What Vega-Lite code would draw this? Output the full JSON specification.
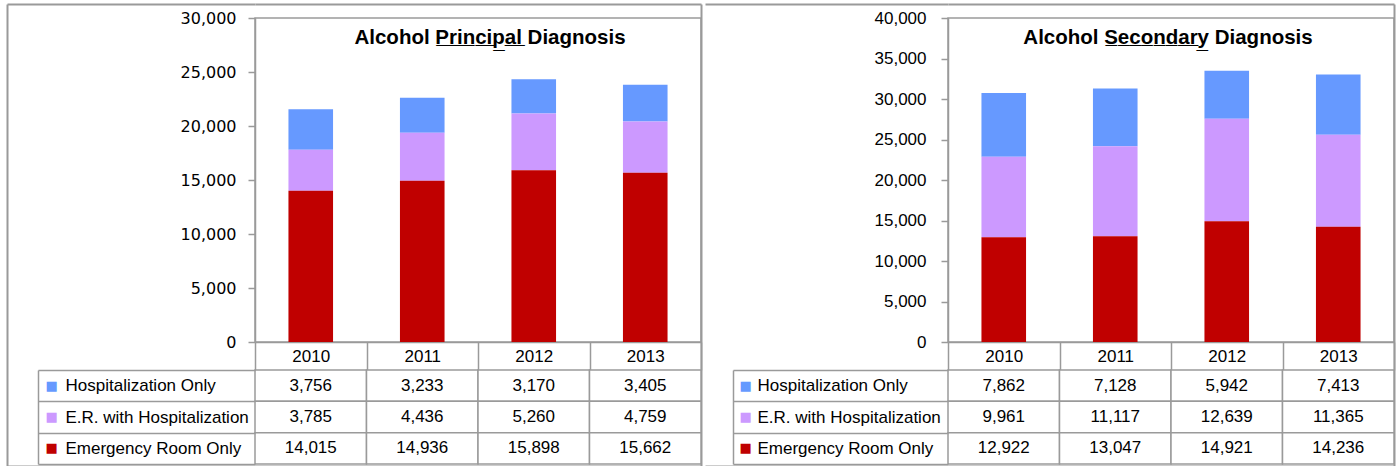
{
  "$schema": "https://vega.github.io/schema/vega-lite/v6.json",
  "background": "white",
  "autosize": {"type": "pad"},
  "padding": {"left": 5, "top": 2, "right": 0, "bottom": 0},
  "datasets": {
    "principal": [
      {"year": "2010", "series": "Hospitalization Only", "value": 3756},
      {"year": "2010", "series": "E.R. with Hospitalization", "value": 3785},
      {"year": "2010", "series": "Emergency Room Only", "value": 14015},
      {"year": "2011", "series": "Hospitalization Only", "value": 3233},
      {"year": "2011", "series": "E.R. with Hospitalization", "value": 4436},
      {"year": "2011", "series": "Emergency Room Only", "value": 14936},
      {"year": "2012", "series": "Hospitalization Only", "value": 3170},
      {"year": "2012", "series": "E.R. with Hospitalization", "value": 5260},
      {"year": "2012", "series": "Emergency Room Only", "value": 15898},
      {"year": "2013", "series": "Hospitalization Only", "value": 3405},
      {"year": "2013", "series": "E.R. with Hospitalization", "value": 4759},
      {"year": "2013", "series": "Emergency Room Only", "value": 15662}
    ],
    "secondary": [
      {"year": "2010", "series": "Hospitalization Only", "value": 7862},
      {"year": "2010", "series": "E.R. with Hospitalization", "value": 9961},
      {"year": "2010", "series": "Emergency Room Only", "value": 12922},
      {"year": "2011", "series": "Hospitalization Only", "value": 7128},
      {"year": "2011", "series": "E.R. with Hospitalization", "value": 11117},
      {"year": "2011", "series": "Emergency Room Only", "value": 13047},
      {"year": "2012", "series": "Hospitalization Only", "value": 5942},
      {"year": "2012", "series": "E.R. with Hospitalization", "value": 12639},
      {"year": "2012", "series": "Emergency Room Only", "value": 14921},
      {"year": "2013", "series": "Hospitalization Only", "value": 7413},
      {"year": "2013", "series": "E.R. with Hospitalization", "value": 11365},
      {"year": "2013", "series": "Emergency Room Only", "value": 14236}
    ]
  },
  "spacing": 0,
  "hconcat": [
    {
      "bounds": "flush",
      "spacing": 28,
      "vconcat": [
        {
          "width": 446,
          "height": 324,
          "data": {"name": "principal"},
          "title": {"text": "Alcohol P̲r̲i̲n̲c̲i̲p̲a̲l̲ Diagnosis", "font": "Liberation Sans", "fontSize": 20.5, "fontWeight": "bold", "color": "black", "anchor": "middle", "frame": "group", "offset": -45, "dx": 12},
          "view": {"stroke": "#9a9a9a", "strokeWidth": 1.5},
          "encoding": {
            "x": {"field": "year", "type": "nominal", "scale": {"paddingInner": 0, "paddingOuter": 0},
              "axis": {"title": null, "domain": true, "domainColor": "#9a9a9a", "domainWidth": 1.5, "ticks": true, "tickBand": "extent", "tickSize": 28, "tickColor": "#9a9a9a", "tickWidth": 1.5, "labelAngle": 0, "labelPadding": -14, "labelBaseline": "middle", "labelFont": "Liberation Sans", "labelFontSize": 17, "labelColor": "black"}}
          },
          "layer": [
            {
              "mark": {"type": "bar", "width": {"band": 0.4}},
              "encoding": {
                "y": {"field": "value", "type": "quantitative", "stack": "zero", "scale": {"domain": [0, 30000], "nice": false},
                  "axis": {"title": null, "values": [0, 5000, 10000, 15000, 20000, 25000, 30000], "format": ",d", "domain": true, "domainColor": "#9a9a9a", "domainWidth": 1.5, "ticks": true, "tickSize": 7, "tickColor": "#9a9a9a", "tickWidth": 1.5, "labelPadding": 12, "labelFont": "DejaVu Sans", "labelFontSize": 16, "labelColor": "black"}},
                "color": {"field": "series", "type": "nominal", "scale": {"domain": ["Hospitalization Only", "E.R. with Hospitalization", "Emergency Room Only"], "range": ["#6699FF", "#CC99FF", "#C00000"]}, "legend": null},
                "order": {"field": "value", "type": "quantitative", "sort": "descending"}
              }
            },
            {
              "mark": {"type": "point", "opacity": 0},
              "encoding": {
                "y": {"datum": 0, "type": "quantitative", "scale": {"domain": [0, 1], "nice": false, "range": [448, -14]},
                  "axis": {"orient": "left", "offset": 248, "title": null, "labels": false, "values": [0, 1], "domain": true, "domainColor": "#9a9a9a", "domainWidth": 2, "ticks": true, "tickSize": -248, "tickColor": "#9a9a9a", "tickWidth": 2}}
              }
            },
            {
              "mark": {"type": "point", "opacity": 0},
              "encoding": {
                "y": {"datum": 0, "type": "quantitative", "scale": {"domain": [0, 1], "nice": false, "range": [448, -14]},
                  "axis": {"orient": "right", "title": null, "labels": false, "values": [0, 1], "domain": true, "domainColor": "#9a9a9a", "domainWidth": 2, "ticks": true, "tickSize": -446, "tickColor": "#9a9a9a", "tickWidth": 2}}
              }
            }
          ],
          "resolve": {"scale": {"y": "independent"}, "axis": {"y": "independent"}}
        },
        {
          "width": 446,
          "height": 94,
          "data": {"name": "principal"},
          "view": {"stroke": null},
          "encoding": {
            "x": {"field": "year", "type": "nominal", "scale": {"paddingInner": 0, "paddingOuter": 0}, "axis": null}
          },
          "layer": [
            {
              "mark": {"type": "rect", "fill": "white", "stroke": "#9a9a9a", "strokeWidth": 1.5},
              "encoding": {
                "y": {"field": "series", "type": "nominal", "scale": {"domain": ["Hospitalization Only", "E.R. with Hospitalization", "Emergency Room Only"], "paddingInner": 0, "paddingOuter": 0},
                  "axis": {"title": null, "orient": "left", "domain": false, "ticks": true, "tickBand": "extent", "tickSize": 217, "tickColor": "#9a9a9a", "tickWidth": 1.5, "labelAlign": "left", "labelPadding": -27, "labelBaseline": "middle", "labelFont": "Liberation Sans", "labelFontSize": 17, "labelColor": "black", "labelLimit": 300}}
              }
            },
            {
              "mark": {"type": "text", "font": "Liberation Sans", "fontSize": 17, "color": "black"},
              "encoding": {
                "y": {"field": "series", "type": "nominal",
                  "axis": {"title": null, "orient": "left", "offset": 217, "domain": true, "domainColor": "#9a9a9a", "domainWidth": 1.5, "ticks": false, "tickSize": 0, "labelExpr": "'■'", "labelAlign": "left", "labelPadding": -7, "labelBaseline": "middle", "labelFont": "DejaVu Sans", "labelFontSize": 13,
                    "labelColor": {"condition": [{"test": "datum.value === 'Hospitalization Only'", "value": "#6699FF"}, {"test": "datum.value === 'E.R. with Hospitalization'", "value": "#CC99FF"}], "value": "#C00000"}}},
                "text": {"field": "value", "type": "quantitative", "format": ","}
              }
            }
          ],
          "resolve": {"axis": {"y": "independent"}}
        }
      ]
    },
    {
      "bounds": "flush",
      "spacing": 28,
      "vconcat": [
        {
          "width": 446,
          "height": 324,
          "data": {"name": "secondary"},
          "title": {"text": "Alcohol S̲e̲c̲o̲n̲d̲a̲r̲y̲ Diagnosis", "font": "Liberation Sans", "fontSize": 20.5, "fontWeight": "bold", "color": "black", "anchor": "middle", "frame": "group", "offset": -45, "dx": -3},
          "view": {"stroke": "#9a9a9a", "strokeWidth": 1.5},
          "encoding": {
            "x": {"field": "year", "type": "nominal", "scale": {"paddingInner": 0, "paddingOuter": 0},
              "axis": {"title": null, "domain": true, "domainColor": "#9a9a9a", "domainWidth": 1.5, "ticks": true, "tickBand": "extent", "tickSize": 28, "tickColor": "#9a9a9a", "tickWidth": 1.5, "labelAngle": 0, "labelPadding": -14, "labelBaseline": "middle", "labelFont": "Liberation Sans", "labelFontSize": 17, "labelColor": "black"}}
          },
          "layer": [
            {
              "mark": {"type": "bar", "width": {"band": 0.4}},
              "encoding": {
                "y": {"field": "value", "type": "quantitative", "stack": "zero", "scale": {"domain": [0, 40000], "nice": false},
                  "axis": {"title": null, "values": [0, 5000, 10000, 15000, 20000, 25000, 30000, 35000, 40000], "format": ",d", "domain": true, "domainColor": "#9a9a9a", "domainWidth": 1.5, "ticks": true, "tickSize": 7, "tickColor": "#9a9a9a", "tickWidth": 1.5, "labelPadding": 15, "labelFont": "Liberation Sans", "labelFontSize": 17, "labelColor": "black"}},
                "color": {"field": "series", "type": "nominal", "scale": {"domain": ["Hospitalization Only", "E.R. with Hospitalization", "Emergency Room Only"], "range": ["#6699FF", "#CC99FF", "#C00000"]}, "legend": null},
                "order": {"field": "value", "type": "quantitative", "sort": "descending"}
              }
            },
            {
              "mark": {"type": "point", "opacity": 0},
              "encoding": {
                "y": {"datum": 0, "type": "quantitative", "scale": {"domain": [0, 1], "nice": false, "range": [448, -14]},
                  "axis": {"orient": "left", "offset": 243, "title": null, "labels": false, "values": [0, 1], "domain": false, "ticks": true, "tickSize": -243, "tickColor": "#9a9a9a", "tickWidth": 2}}
              }
            },
            {
              "mark": {"type": "point", "opacity": 0},
              "encoding": {
                "y": {"datum": 0, "type": "quantitative", "scale": {"domain": [0, 1], "nice": false, "range": [448, -14]},
                  "axis": {"orient": "right", "title": null, "labels": false, "values": [0, 1], "domain": true, "domainColor": "#9a9a9a", "domainWidth": 2, "ticks": true, "tickSize": -446, "tickColor": "#9a9a9a", "tickWidth": 2}}
              }
            }
          ],
          "resolve": {"scale": {"y": "independent"}, "axis": {"y": "independent"}}
        },
        {
          "width": 446,
          "height": 94,
          "data": {"name": "secondary"},
          "view": {"stroke": null},
          "encoding": {
            "x": {"field": "year", "type": "nominal", "scale": {"paddingInner": 0, "paddingOuter": 0}, "axis": null}
          },
          "layer": [
            {
              "mark": {"type": "rect", "fill": "white", "stroke": "#9a9a9a", "strokeWidth": 1.5},
              "encoding": {
                "y": {"field": "series", "type": "nominal", "scale": {"domain": ["Hospitalization Only", "E.R. with Hospitalization", "Emergency Room Only"], "paddingInner": 0, "paddingOuter": 0},
                  "axis": {"title": null, "orient": "left", "domain": false, "ticks": true, "tickBand": "extent", "tickSize": 215, "tickColor": "#9a9a9a", "tickWidth": 1.5, "labelAlign": "left", "labelPadding": -24, "labelBaseline": "middle", "labelFont": "Liberation Sans", "labelFontSize": 17, "labelColor": "black", "labelLimit": 300}}
              }
            },
            {
              "mark": {"type": "text", "font": "Liberation Sans", "fontSize": 17, "color": "black"},
              "encoding": {
                "y": {"field": "series", "type": "nominal",
                  "axis": {"title": null, "orient": "left", "offset": 215, "domain": true, "domainColor": "#9a9a9a", "domainWidth": 1.5, "ticks": false, "tickSize": 0, "labelExpr": "'■'", "labelAlign": "left", "labelPadding": -6, "labelBaseline": "middle", "labelFont": "DejaVu Sans", "labelFontSize": 13,
                    "labelColor": {"condition": [{"test": "datum.value === 'Hospitalization Only'", "value": "#6699FF"}, {"test": "datum.value === 'E.R. with Hospitalization'", "value": "#CC99FF"}], "value": "#C00000"}}},
                "text": {"field": "value", "type": "quantitative", "format": ","}
              }
            }
          ],
          "resolve": {"axis": {"y": "independent"}}
        }
      ]
    }
  ],
  "config": {
    "axis": {"grid": false},
    "view": {"stroke": null}
  }
}
